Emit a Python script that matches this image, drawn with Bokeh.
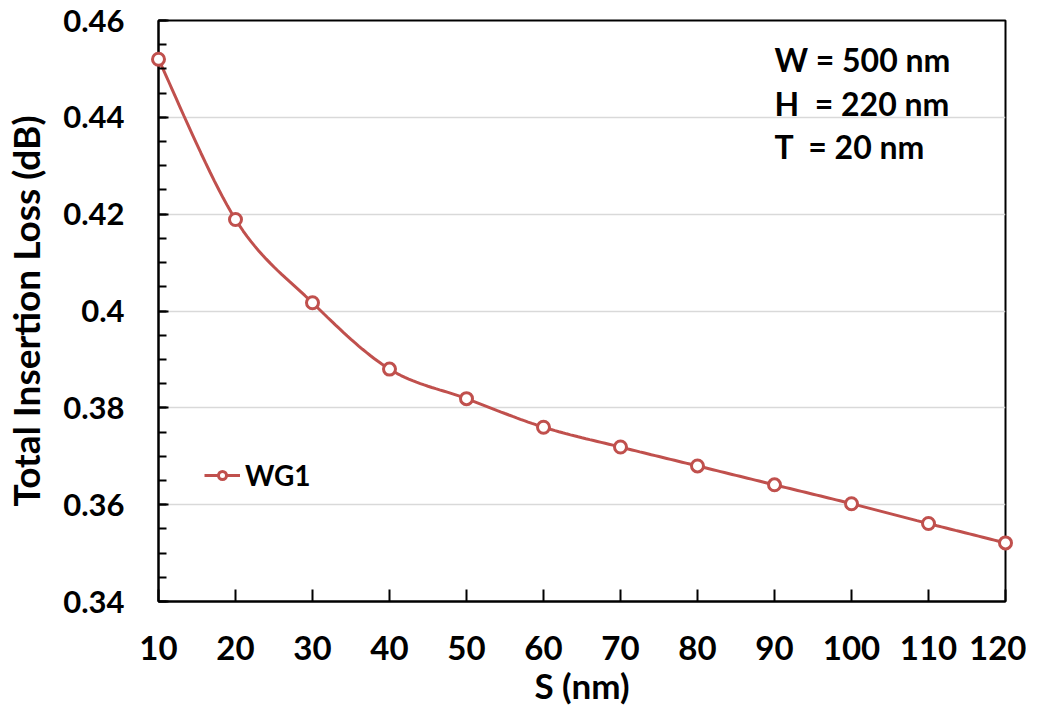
import numpy as np
from bokeh.plotting import figure
from bokeh.models import (Range1d, SingleIntervalTicker, CustomJSTickFormatter, Legend, LegendItem,
                          Label)
from bokeh.embed import file_html
from bokeh.resources import INLINE

# ---- data ----
s_nm = [10, 20, 30, 40, 50, 60, 70, 80, 90, 100, 110, 120]
loss_db = [0.452, 0.4189, 0.4017, 0.388, 0.3819, 0.376, 0.3719, 0.368, 0.3641, 0.3602, 0.3561, 0.3521]
series_name = "WG1"
notes = ["W = 500 nm", "H \u00a0= 220 nm", "T \u00a0= 20 nm"]

RED = "#C0504D"
FONT = "Lato"

def smooth(xs, ys, n=20):
    # Excel-style smoothed line (cubic Bezier through the points)
    xs = np.asarray(xs, float); ys = np.asarray(ys, float)
    px, py = [], []
    m = len(xs)
    for i in range(m - 1):
        x0, y0 = xs[max(i - 1, 0)], ys[max(i - 1, 0)]
        x1, y1 = xs[i], ys[i]
        x2, y2 = xs[i + 1], ys[i + 1]
        x3, y3 = xs[min(i + 2, m - 1)], ys[min(i + 2, m - 1)]
        c1x, c1y = x1 + (x2 - x0) / 6, y1 + (y2 - y0) / 6
        c2x, c2y = x2 - (x3 - x1) / 6, y2 - (y3 - y1) / 6
        t = np.linspace(0, 1, n, endpoint=(i == m - 2))
        a, b, c, d = (1 - t) ** 3, 3 * (1 - t) ** 2 * t, 3 * (1 - t) * t ** 2, t ** 3
        px.extend(a * x1 + b * c1x + c * c2x + d * x2)
        py.extend(a * y1 + b * c1y + c * c2y + d * y2)
    return px, py

p = figure(width=1026, height=708, output_backend="svg", toolbar_location=None,
           x_range=Range1d(10, 120), y_range=Range1d(0.34, 0.46),
           min_border_left=157, min_border_right=21, min_border_top=20, min_border_bottom=104)
p.background_fill_color = "white"
p.border_fill_color = "white"
p.outline_line_color = "black"
p.outline_line_width = 2

sx, sy = smooth(s_nm, loss_db)
ln = p.line(sx, sy, line_color=RED, line_width=3)
sc = p.scatter(s_nm, loss_db, size=12, marker="circle", fill_color="white",
               line_color=RED, line_width=3, level="overlay")

# axes
xa = p.xaxis[0]
xa.ticker = SingleIntervalTicker(interval=10, num_minor_ticks=0)
xa.axis_line_width = 2
xa.major_tick_line_width = 2
xa.major_tick_in = 12
xa.major_tick_out = 0
xa.minor_tick_line_color = None
xa.major_label_text_font = FONT
xa.major_label_text_font_style = "bold"
xa.major_label_text_font_size = "33px"
xa.major_label_text_color = "black"
xa.major_label_standoff = 34
xa.axis_label = "S (nm)"
xa.axis_label_text_font = FONT
xa.axis_label_text_font_style = "bold"
xa.axis_label_text_font_size = "35px"
xa.axis_label_text_color = "black"
xa.axis_label_standoff = 1

ya = p.yaxis[0]
ya.ticker = SingleIntervalTicker(interval=0.02, num_minor_ticks=4)
ya.formatter = CustomJSTickFormatter(code="return (Math.round(tick*100)/100).toString();")
ya.axis_line_width = 2
ya.major_tick_line_width = 2
ya.minor_tick_line_width = 2
ya.major_tick_in = 10
ya.major_tick_out = 0
ya.minor_tick_in = 8
ya.minor_tick_out = 0
ya.minor_tick_line_color = "black"
ya.major_label_text_font = FONT
ya.major_label_text_font_style = "bold"
ya.major_label_text_font_size = "31px"
ya.major_label_text_color = "black"
ya.major_label_standoff = 34
ya.axis_label = "Total Insertion Loss (dB)"
ya.axis_label_text_font = FONT
ya.axis_label_text_font_style = "bold"
ya.axis_label_text_font_size = "37px"
ya.axis_label_text_color = "black"
ya.axis_label_standoff = 12

p.xgrid.grid_line_color = None
p.ygrid.grid_line_color = "#D9D9D9"
p.ygrid.grid_line_width = 1.5
p.ygrid.ticker = ya.ticker

legend = Legend(items=[LegendItem(label=series_name, renderers=[ln, sc])],
                location=(46, 109), border_line_color=None, background_fill_alpha=0,
                label_text_font=FONT, label_text_font_style="bold", label_text_font_size="28px",
                label_text_color="black",
                glyph_width=36, glyph_height=20, padding=0, margin=0, label_standoff=5)
p.add_layout(legend)

for i, t in enumerate(notes):
    p.add_layout(Label(x=616, y=542 - i * 43.5, x_units="screen", y_units="screen", text=t,
                       text_font=FONT, text_font_style="bold", text_font_size="32px",
                       text_color="black", text_baseline="middle"))

open("out.html", "w").write(file_html(p, INLINE))
